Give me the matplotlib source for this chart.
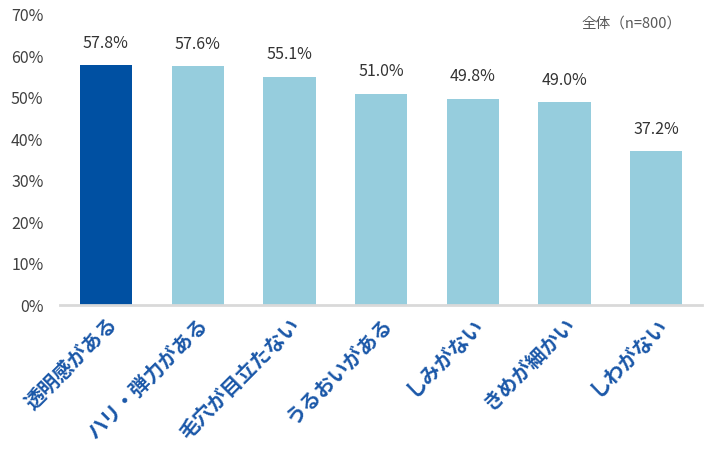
import matplotlib
matplotlib.use('Agg')
import matplotlib.pyplot as plt

plt.rcParams['font.family'] = ['Noto Sans CJK JP', 'DejaVu Sans']

categories = ['透明感がある', 'ハリ・弾力がある', '毛穴が目立たない', 'うるおいがある',
              'しみがない', 'きめが細かい', 'しわがない']
values = [57.8, 57.6, 55.1, 51.0, 49.8, 49.0, 37.2]
yticks = [0, 10, 20, 30, 40, 50, 60, 70]

dark = '#0050a2'
light = '#96cddd'
colors = [dark] + [light] * (len(values) - 1)

fig = plt.figure(figsize=(7.15, 4.5), dpi=100)
ax = fig.add_axes([0.084, 0.322, 0.898, 0.645])

x = range(len(categories))
bars = ax.bar(x, values, width=0.57, color=colors)

# 数値ラベル
for xi, v in zip(x, values):
    ax.text(xi, v + 3.2, f'{v:.1f}%', ha='center', va='bottom',
            fontsize=11.5, color='#333333')

ax.set_ylim(0, 70)
ax.set_xlim(-0.5, len(categories) - 0.5)
ax.set_yticks(yticks)
ax.set_yticklabels([f'{t}%' for t in yticks], fontsize=11.5, color='#404040')
ax.tick_params(axis='y', length=0, pad=12)
ax.tick_params(axis='x', length=0, pad=6)
ax.set_xticks(list(x))
ax.set_xticklabels(categories, rotation=45, ha='right', rotation_mode='anchor',
                   fontsize=14.5, fontweight='bold', color='#1a57a8')

for s in ['top', 'right', 'left']:
    ax.spines[s].set_visible(False)
ax.spines['bottom'].set_color('#d9d9d9')
ax.spines['bottom'].set_linewidth(2)

fig.text(0.953, 0.948, '全体（n=800）', ha='right', va='center',
         fontsize=10.5, color='#595959')

fig.savefig('out.png', dpi=100)
